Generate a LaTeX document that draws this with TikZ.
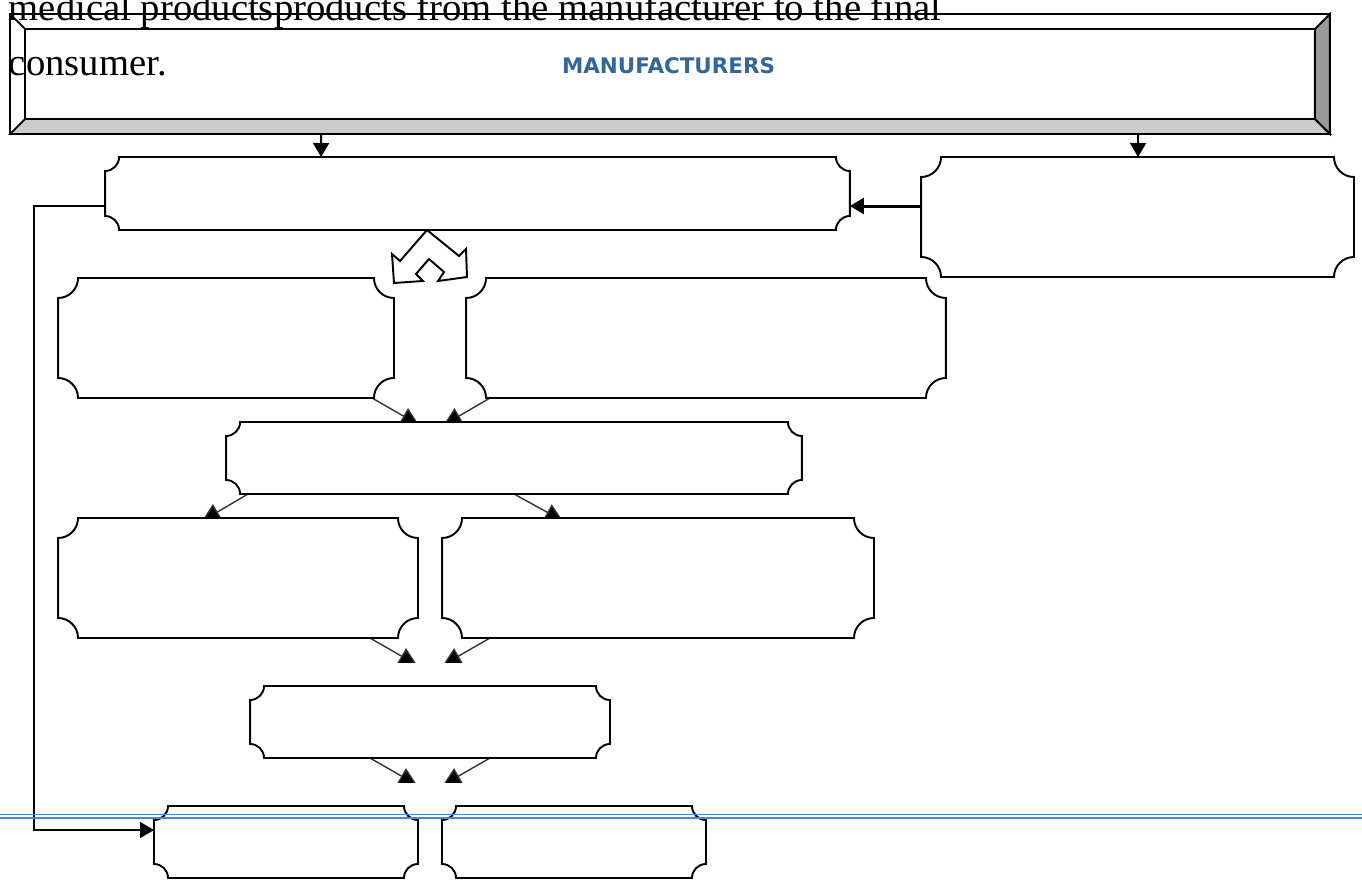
\documentclass[tikz,border=0pt]{standalone}
\usepackage{fontspec}
\setmainfont{Liberation Serif}
\newfontfamily\headfont{DejaVu Sans}
\usepackage{xcolor}
\usetikzlibrary{arrows.meta, calc}

\definecolor{headblue}{RGB}{51,102,153}
\definecolor{bevellight}{RGB}{204,204,204}
\definecolor{beveldark}{RGB}{153,153,153}
\definecolor{pageblue}{RGB}{74,134,214}

% Plakette um einen benannten Knoten: #1 Knoten, #2 Eckradius
\newcommand{\plaque}[2]{%
  \draw[plaqueline] ([xshift=#2]#1.north west) -- ([xshift=-#2]#1.north east)
    arc[start angle=180, end angle=270, radius=#2] -- ([yshift=#2]#1.south east)
    arc[start angle=90, end angle=180, radius=#2] -- ([xshift=#2]#1.south west)
    arc[start angle=0, end angle=90, radius=#2] -- ([yshift=-#2]#1.north west)
    arc[start angle=270, end angle=360, radius=#2] -- cycle;}

\begin{document}
\begin{tikzpicture}[
    x=0.02cm, y=-0.02cm,
    >={Triangle[length=0.28cm, width=0.32cm]},
    boxarea/.style={rectangle, inner sep=0pt, outer sep=0pt, draw=none},
    plaqueline/.style={draw=black, line width=1.1pt, fill=white},
    feed/.style={->, line width=1.1pt},
    branch/.style={-{Triangle[length=0.36cm, width=0.36cm, fill=black]}, line width=0.8pt, draw=black!80},
    pagerule/.style={draw=pageblue, line width=0.9pt},
    bodytext/.style={font=\fontsize{22}{26}\selectfont, inner sep=0pt, anchor=base west}
]
\useasboundingbox (0,0) rectangle (1362,882);

% --- PARAMETER ---
\def\rs{0.28cm}   % Eckradius flache Kaesten
\def\rl{0.4cm}    % Eckradius hohe Kaesten

% --- KAESTEN (nur Flaechen) ---
\node[boxarea, minimum width=26.4cm,  minimum height=2.4cm]  (mfr)   at (670,74) {};
\node[boxarea, minimum width=14.9cm,  minimum height=1.46cm] (dist)  at (477.5,193.5) {};
\node[boxarea, minimum width=8.66cm,  minimum height=2.4cm]  (side)  at (1137.5,217) {};
\node[boxarea, minimum width=6.72cm,  minimum height=2.4cm]  (midL)  at (226,338) {};
\node[boxarea, minimum width=9.6cm,   minimum height=2.4cm]  (midR)  at (706,338) {};
\node[boxarea, minimum width=11.52cm, minimum height=1.44cm] (hub)   at (514,458) {};
\node[boxarea, minimum width=7.2cm,   minimum height=2.4cm]  (lowL)  at (238,578) {};
\node[boxarea, minimum width=8.64cm,  minimum height=2.4cm]  (lowR)  at (658,578) {};
\node[boxarea, minimum width=7.2cm,   minimum height=1.44cm] (pre)   at (430,722) {};
\node[boxarea, minimum width=5.28cm,  minimum height=1.44cm] (endL)  at (286,842) {};
\node[boxarea, minimum width=5.28cm,  minimum height=1.44cm] (endR)  at (574,842) {};

% --- HERSTELLER (Relief) ---
\draw[line width=1.1pt, fill=white] (mfr.north west) rectangle (mfr.south east);
\filldraw[line width=1.1pt, fill=bevellight] (mfr.south west) -- ($(mfr.south west)+(15,-15)$)
    -- ($(mfr.south east)+(-15,-15)$) -- (mfr.south east) -- cycle;
\filldraw[line width=1.1pt, fill=beveldark] (mfr.north east) -- ($(mfr.north east)+(-15,15)$)
    -- ($(mfr.south east)+(-15,-15)$) -- (mfr.south east) -- cycle;
\draw[line width=1.1pt] ($(mfr.north west)+(15,15)$) rectangle ($(mfr.south east)+(-15,-15)$);
\draw[line width=1.1pt] (mfr.north west) -- ++(15,15);
\node[anchor=base, inner sep=0pt, text=headblue, font=\headfont\bfseries\fontsize{12.2}{14}\selectfont]
    (mfrlabel) at (668.5,73.5) {MANUFACTURERS};

% --- PFEILE ---
\draw[feed] ($(mfr.south west)+(311,0)$) -- ($(dist.north west)+(216,0)$);
\draw[feed] ($(mfr.south west)+(1128,0)$) -- ($(side.north west)+(217,0)$);
\draw[->, line width=1.7pt] ($(side.north west)+(0,49)$) coordinate (s) -- (s -| dist.east);
\draw[->, line width=1pt] ($(dist.north west)+(0,49)$) -- ++(-71,0) |- ($(endL.north west)+(0,24)$);

\draw[branch] ($(midL.south east)+(-22,0)$) -- ($(hub.north west)+(193,3)$);
\draw[branch] ($(midR.south west)+(24,0)$) -- ($(hub.north west)+(217.5,3)$);
\draw[branch] ($(hub.south west)+(22,0)$) -- ($(lowL.north west)+(144,3)$);
\draw[branch] (hub.south) -- ($(lowR.north west)+(121,3)$);

\begin{scope}
    \clip (0,0) rectangle (1362,662);
    \draw[branch] ($(lowL.south east)+(-48,0)$) -- ($(pre.north west)+(167,-21)$);
    \draw[branch] ($(lowR.south west)+(48,0)$) -- ($(pre.north west)+(193,-21)$);
\end{scope}
\begin{scope}
    \clip (0,0) rectangle (1362,782);
    \draw[branch] ($(pre.south west)+(120,0)$) -- ($(endL.north east)+(-1,-21)$);
    \draw[branch] ($(pre.south west)+(240,0)$) -- ($(endR.north west)+(1,-21)$);
\end{scope}

% --- PLAKETTEN ---
\plaque{dist}{\rs}
\plaque{side}{\rl}
\plaque{midL}{\rl}
\plaque{midR}{\rl}
\plaque{hub}{\rs}
\plaque{lowL}{\rl}
\plaque{lowR}{\rl}
\plaque{pre}{\rs}
\plaque{endL}{\rs}
\plaque{endR}{\rs}

% Blockpfeil unter dist
\draw[line width=1.1pt, fill=white] (427,230) -- (400,261) -- (392,254) -- (394,283) -- (423,281)
    -- (416,274) -- (429,259) -- (444,272) -- (438,281) -- (467,277) -- (466,249) -- (459,256) -- cycle;

% --- TEXT ---
\node[bodytext] (cap1) at (8.5,21) {medical productsproducts from the manufacturer to the final};
\node[bodytext] (cap2) at (8.5,76) {consumer.};

% Seitenumbruch
\draw[pagerule] (0,814.5) -- (1362,814.5);
\draw[pagerule] (0,817.7) -- (1362,817.7);
\end{tikzpicture}
\end{document}
